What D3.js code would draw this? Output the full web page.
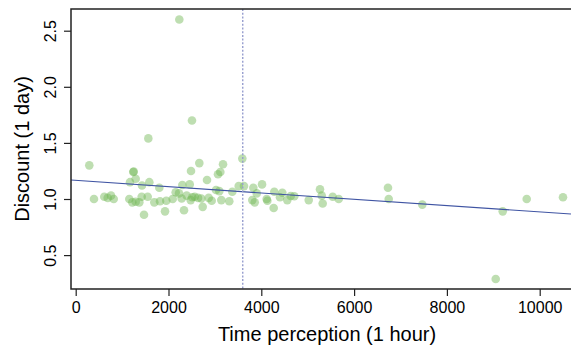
<!DOCTYPE html>
<html>
<head>
<meta charset="utf-8">
<script src="https://cdn.jsdelivr.net/npm/d3@7"></script>
<style>
  html, body { margin: 0; padding: 0; background: #fff; }
  svg { display: block; font-family: "Liberation Sans", Arial, sans-serif; }
</style>
</head>
<body>
<div id="chart"></div>
<script>
// time perception for 1 hour (x) and discount for 1 day (y)
const timePerception = [
  293, 394, 616, 690, 761, 819, 1155, 1170, 1241, 1250, 1293, 1220, 1293, 1371,
  1422, 1429, 1472, 1552, 1565, 1587, 1694, 1802, 1817, 1925, 1953, 2090, 2155,
  2226, 2233, 2284, 2298, 2334, 2392, 2457, 2478, 2485, 2506, 2513, 2564, 2636,
  2664, 2707, 2737, 2830, 2866, 2931, 3024, 3067, 3095, 3117, 3138, 3175, 3310,
  3375, 3513, 3591, 3627, 3806, 3828, 3858, 3901, 4016, 4116, 4130, 4267, 4280,
  4403, 4453, 4560, 4634, 4711, 5022, 5265, 5302, 5323, 5539, 5668, 6730, 6746,
  7470, 9052, 9203, 9720, 10502
];
const discount = [
  1.30, 1.00, 1.02, 1.01, 1.03, 1.00, 1.00, 1.15, 1.24, 1.245, 1.18, 0.97, 0.975, 0.97,
  1.02, 1.12, 0.86, 1.02, 1.54, 1.15, 0.97, 1.10, 0.98, 0.89, 0.985, 1.00, 1.06,
  1.05, 2.60, 1.005, 1.125, 0.90, 1.03, 1.13, 0.99, 1.25, 1.70, 1.015, 1.02, 1.01,
  1.32, 1.005, 0.93, 1.17, 1.01, 0.985, 1.08, 1.22, 1.07, 1.24, 0.99, 1.31, 0.98,
  1.065, 1.115, 1.36, 1.115, 0.99, 1.10, 0.97, 1.05, 1.13, 1.00, 0.985, 0.92, 1.065,
  1.015, 1.056, 0.99, 1.027, 1.025, 0.99, 1.086, 1.03, 0.96, 1.02, 1.00, 1.10, 1.00,
  0.95, 0.287, 0.89, 1.00, 1.015
];
const xTicks = [0, 2000, 4000, 6000, 8000, 10000];
const yTicks = [0.5, 1.0, 1.5, 2.0, 2.5];
const fitIntercept = 1.166;   // regression line
const fitSlope = -0.0000281;
const refTime = 3600;         // 1 hour in seconds

const width = 571, height = 346;
const plot = { left: 71, top: 9, right: 571, bottom: 289 };

const svg = d3.select('#chart').append('svg')
  .attr('width', width)
  .attr('height', height);

const x = d3.scaleLinear().domain([0, 10000]).range([75.7, 539.7]);
const y = d3.scaleLinear().domain([0.5, 2.5]).range([255.1, 30.7]);

const xMin = x.invert(plot.left), xMax = x.invert(plot.right);

// clip area
svg.append('clipPath').attr('id', 'clip')
  .append('rect')
  .attr('x', plot.left).attr('y', plot.top)
  .attr('width', plot.right - plot.left).attr('height', plot.bottom - plot.top);

const g = svg.append('g').attr('clip-path', 'url(#clip)');

// points
g.selectAll('circle')
  .data(timePerception.map((t, i) => ({ t, d: discount[i] })))
  .enter().append('circle')
  .attr('cx', p => x(p.t))
  .attr('cy', p => y(p.d))
  .attr('r', 4.3)
  .attr('fill', 'rgb(110,182,82)')
  .attr('fill-opacity', 0.45);

// regression line
g.append('line')
  .attr('x1', x(xMin)).attr('y1', y(fitIntercept + fitSlope * xMin))
  .attr('x2', x(xMax)).attr('y2', y(fitIntercept + fitSlope * xMax))
  .attr('stroke', '#3f54a3')
  .attr('stroke-width', 1.1);

// 1 hour reference
g.append('line')
  .attr('x1', x(refTime)).attr('x2', x(refTime))
  .attr('y1', plot.top).attr('y2', plot.bottom)
  .attr('stroke', '#979ecf')
  .attr('stroke-width', 1.4)
  .attr('stroke-dasharray', '2,1.7');

// frame
svg.append('path')
  .attr('d', `M${plot.right},${plot.top}H${plot.left}V${plot.bottom}H${plot.right}`)
  .attr('fill', 'none')
  .attr('stroke', '#222')
  .attr('stroke-width', 1.5);

// x axis
const xAxis = svg.append('g')
  .attr('transform', `translate(0,${plot.bottom})`)
  .call(d3.axisBottom(x).tickValues(xTicks).tickFormat(d3.format('d')).tickSize(7).tickPadding(6));
xAxis.select('.domain').remove();
xAxis.selectAll('line').attr('stroke', '#222').attr('stroke-width', 1.2);
xAxis.selectAll('text').attr('font-size', 16).attr('fill', '#000')
  .attr('font-family', '"Liberation Sans", Arial, sans-serif');

// y axis, labels rotated
const yAxis = svg.append('g')
  .attr('transform', `translate(${plot.left},0)`)
  .call(d3.axisLeft(y).tickValues(yTicks).tickFormat(d3.format('.1f')).tickSize(7));
yAxis.select('.domain').remove();
yAxis.selectAll('line').attr('stroke', '#222').attr('stroke-width', 1.2);
yAxis.selectAll('text')
  .attr('font-size', 16).attr('fill', '#000')
  .attr('font-family', '"Liberation Sans", Arial, sans-serif')
  .attr('x', null).attr('dy', null)
  .attr('text-anchor', 'middle')
  .attr('transform', `translate(-15.5,0) rotate(-90)`);

// axis titles
svg.append('text')
  .attr('x', 327).attr('y', 340.5)
  .attr('text-anchor', 'middle')
  .attr('font-size', 20)
  .text('Time perception (1 hour)');

svg.append('text')
  .attr('transform', 'translate(29,149) rotate(-90)')
  .attr('text-anchor', 'middle')
  .attr('font-size', 20)
  .text('Discount (1 day)');
</script>
</body>
</html>
